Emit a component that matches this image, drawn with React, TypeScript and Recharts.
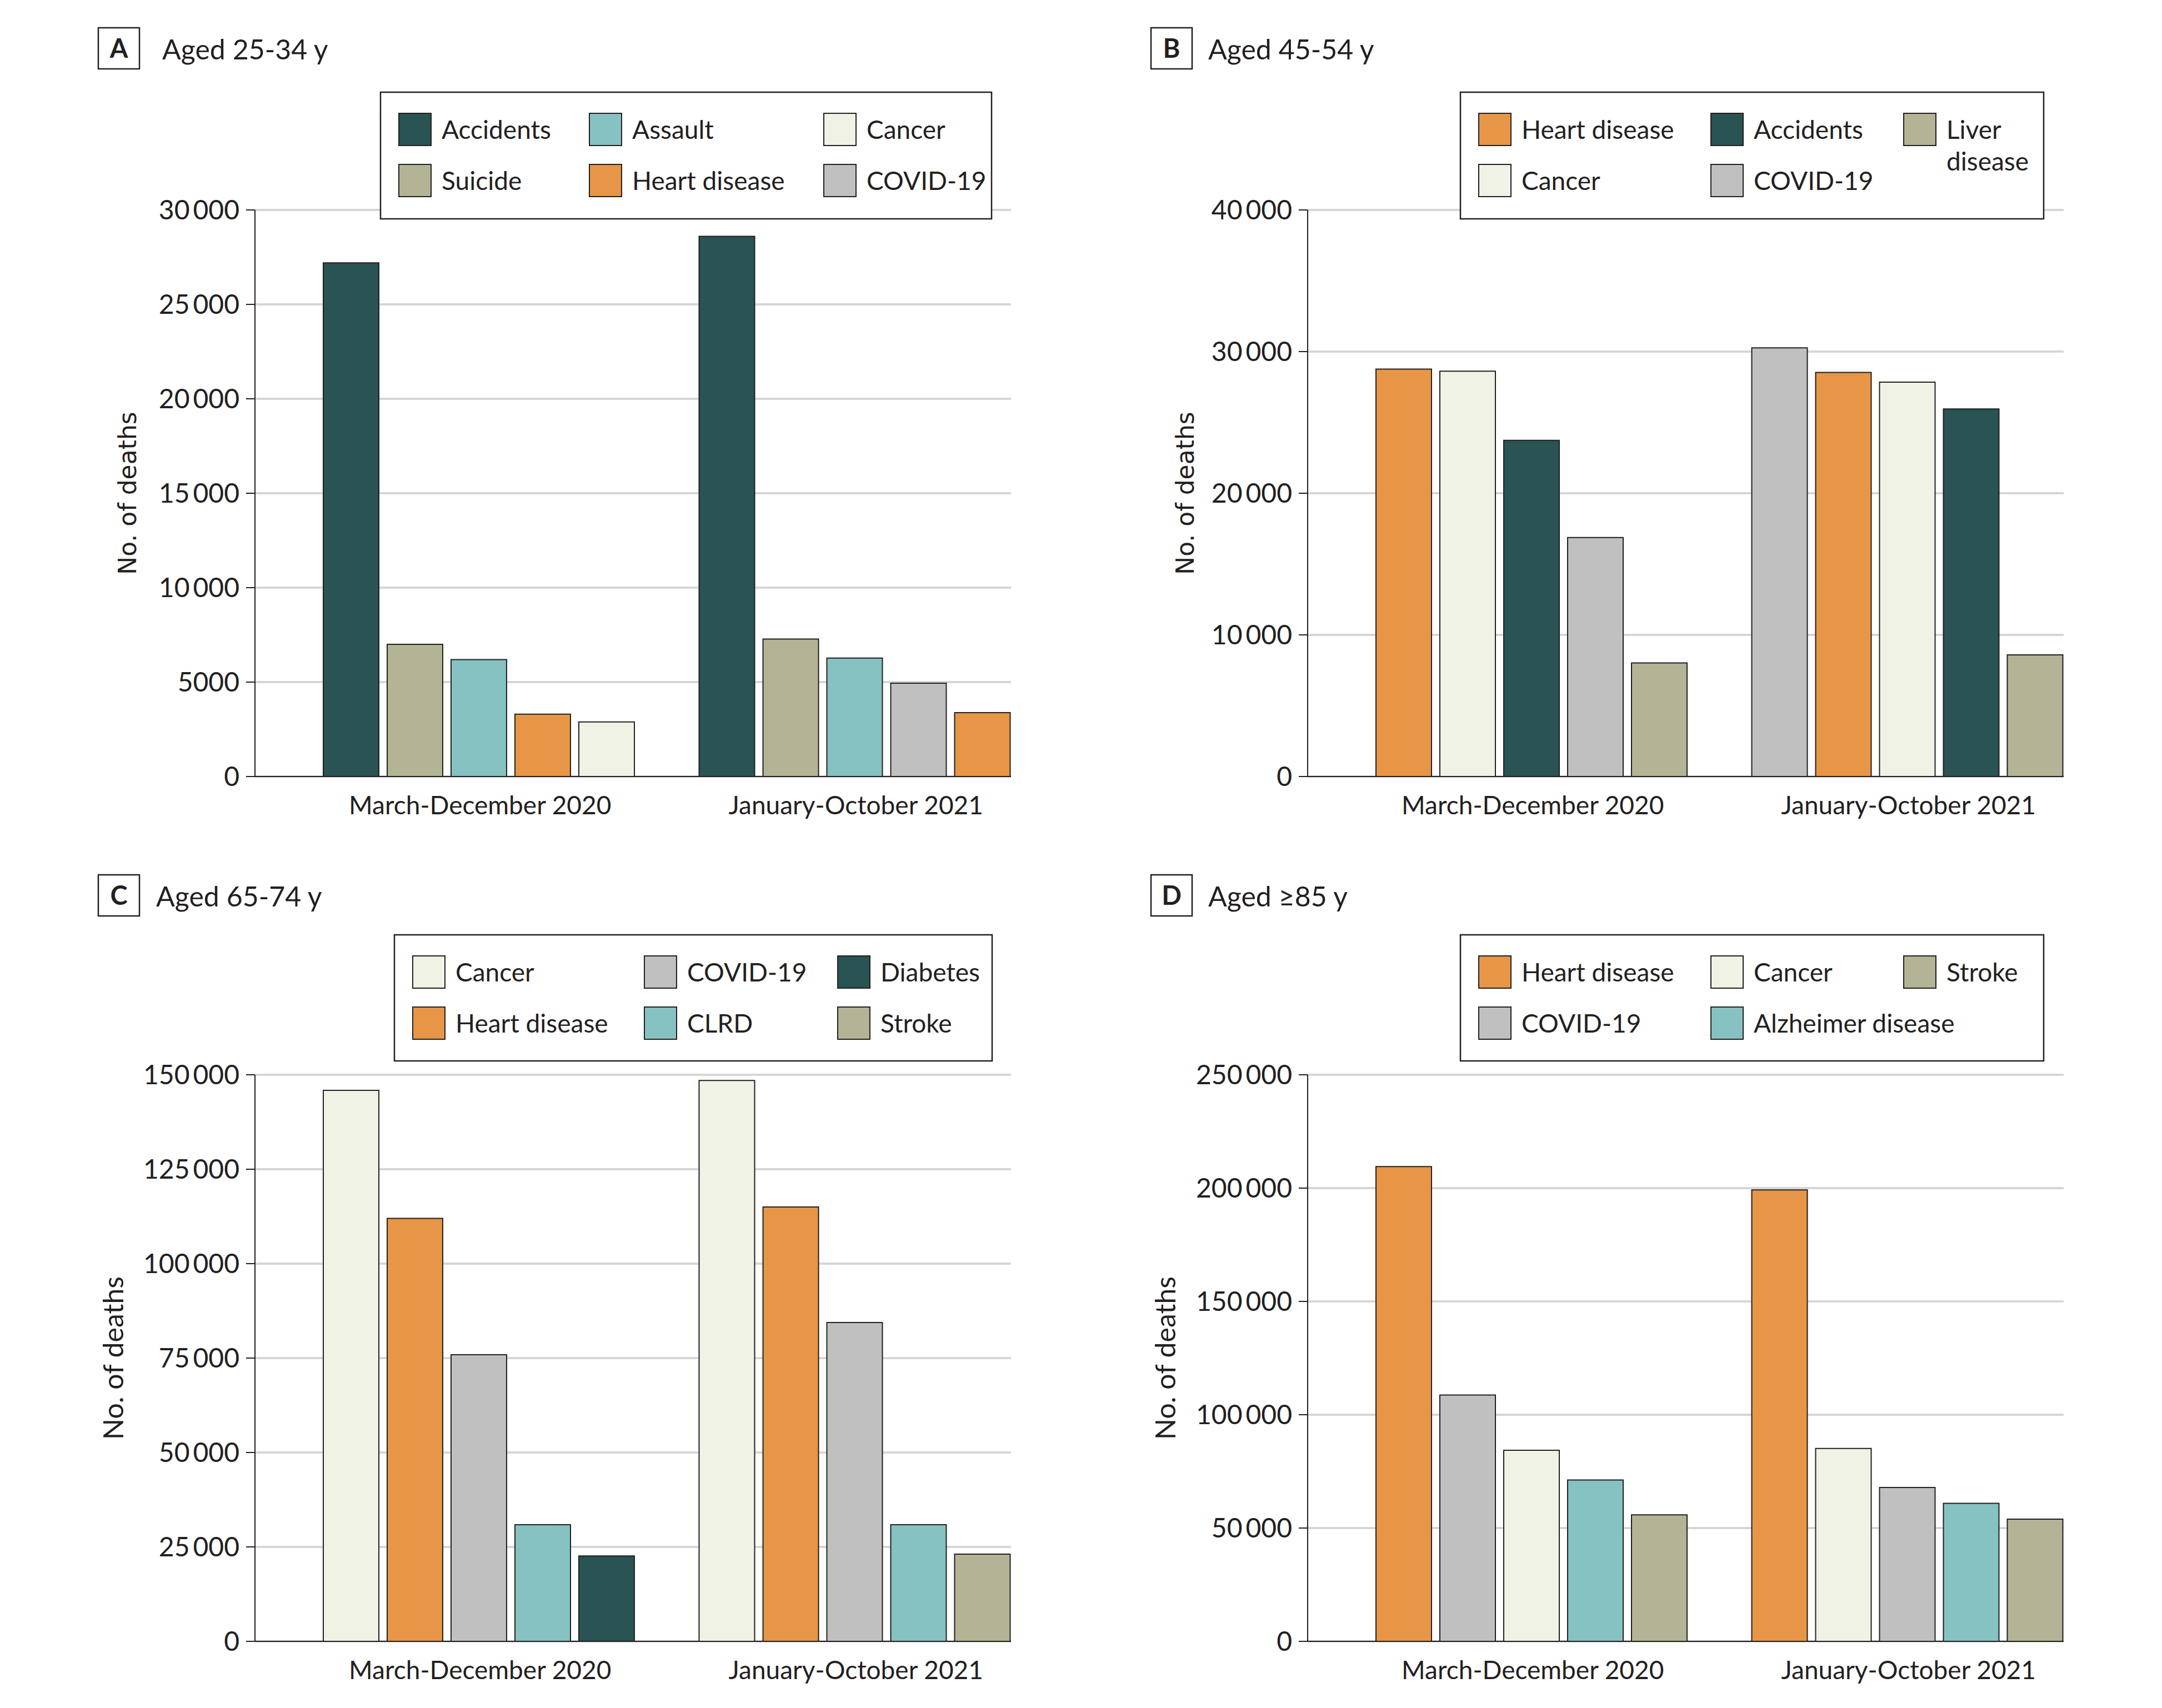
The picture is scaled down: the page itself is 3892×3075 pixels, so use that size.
import React from 'react';
import { BarChart, Bar, Cell, XAxis, YAxis, CartesianGrid } from 'recharts';

const periods = ['March-December 2020', 'January-October 2021'];

// A: aged 25-34 y, bars ranked within each period
const causesA2020 = ['Accidents', 'Suicide', 'Assault', 'Heart disease', 'Cancer'];
const deathsA2020 = [27200, 7000, 6190, 3300, 2890];
const causesA2021 = ['Accidents', 'Suicide', 'Assault', 'COVID-19', 'Heart disease'];
const deathsA2021 = [28600, 7280, 6270, 4940, 3380];
const legendA = ['Accidents', 'Assault', 'Cancer', 'Suicide', 'Heart disease', 'COVID-19'];
const ticksA = [0, 5000, 10000, 15000, 20000, 25000, 30000];

// B: aged 45-54 y
const causesB2020 = ['Heart disease', 'Cancer', 'Accidents', 'COVID-19', 'Liver disease'];
const deathsB2020 = [28760, 28620, 23740, 16870, 8020];
const causesB2021 = ['COVID-19', 'Heart disease', 'Cancer', 'Accidents', 'Liver disease'];
const deathsB2021 = [30260, 28530, 27840, 25950, 8590];
const legendB = ['Heart disease', 'Accidents', 'Liver disease', 'Cancer', 'COVID-19'];
const ticksB = [0, 10000, 20000, 30000, 40000];

// C: aged 65-74 y
const causesC2020 = ['Cancer', 'Heart disease', 'COVID-19', 'CLRD', 'Diabetes'];
const deathsC2020 = [145900, 112000, 75900, 30900, 22600];
const causesC2021 = ['Cancer', 'Heart disease', 'COVID-19', 'CLRD', 'Stroke'];
const deathsC2021 = [148500, 115000, 84400, 30900, 23100];
const legendC = ['Cancer', 'COVID-19', 'Diabetes', 'Heart disease', 'CLRD', 'Stroke'];
const ticksC = [0, 25000, 50000, 75000, 100000, 125000, 150000];

// D: aged >=85 y
const causesD2020 = ['Heart disease', 'COVID-19', 'Cancer', 'Alzheimer disease', 'Stroke'];
const deathsD2020 = [209500, 108700, 84300, 71200, 55800];
const causesD2021 = ['Heart disease', 'Cancer', 'COVID-19', 'Alzheimer disease', 'Stroke'];
const deathsD2021 = [199200, 85100, 67900, 60900, 53900];
const legendD = ['Heart disease', 'Cancer', 'Stroke', 'COVID-19', 'Alzheimer disease'];
const ticksD = [0, 50000, 100000, 150000, 200000, 250000];

const causeColors: Record<string, string> = {
  Accidents: '#2a5353',
  Diabetes: '#2a5353',
  Assault: '#85c2c1',
  CLRD: '#85c2c1',
  'Alzheimer disease': '#85c2c1',
  Cancer: '#f0f2e6',
  Suicide: '#b2b495',
  'Liver disease': '#b2b495',
  Stroke: '#b2b495',
  'Heart disease': '#e69646',
  'COVID-19': '#c0c0c0',
};

const INK = '#231f20';
const FONT = 'Lato, "Noto Sans", sans-serif';
const RANKS = [0, 1, 2, 3, 4];

const buildRows = (c20: string[], d20: number[], c21: string[], d21: number[]) =>
  [
    [c20, d20],
    [c21, d21],
  ].map(([c, d], i) => {
    const row: Record<string, any> = { period: periods[i], causes: c, pad: null };
    (d as number[]).forEach((v, k) => {
      row[`r${k}`] = v;
    });
    return row;
  });

const fmt = (v: number) =>
  v >= 10000 ? v.toLocaleString('en-US').replace(/,/g, '\u2009') : String(v);

const PeriodTick = (props: any) => {
  const { x, y, payload } = props;
  return (
    <text x={x + 59} y={y} dy={68} textAnchor="middle" fontSize={46} fill={INK} fontFamily={FONT}>
      {payload.value}
    </text>
  );
};

type PanelProps = {
  rows: Record<string, any>[];
  ticks: number[];
  x: number;
  y: number;
  labelOffset: number;
  labelStyle: React.CSSProperties;
};

function DeathsPanel({ rows, ticks, x, y, labelOffset, labelStyle }: PanelProps) {
  return (
    <div style={{ position: 'absolute', left: x, top: y }}>
      <BarChart
        width={1840}
        height={1500}
        data={rows}
        margin={{ top: 378, right: 20, bottom: 22, left: 0 }}
        barCategoryGap={0}
        barGap={15}
      >
        <CartesianGrid vertical={false} stroke="#d6d6d6" strokeWidth={4} />
        <XAxis
          dataKey="period"
          padding={{ left: 8, right: 0 }}
          tickLine={false}
          tickSize={0}
          tickMargin={0}
          height={80}
          interval={0}
          axisLine={{ stroke: INK, strokeWidth: 2 }}
          tick={PeriodTick}
        />
        <YAxis
          width={459}
          domain={[0, ticks[ticks.length - 1]]}
          ticks={ticks}
          interval={0}
          tickFormatter={fmt}
          tickSize={16}
          tickMargin={12}
          axisLine={{ stroke: INK, strokeWidth: 2 }}
          tickLine={{ stroke: INK, strokeWidth: 2 }}
          tick={{ fill: INK, fontSize: 48, fontFamily: FONT }}
          label={{
            value: 'No. of deaths',
            angle: -90,
            position: 'insideLeft',
            offset: labelOffset,
            style: { textAnchor: 'middle', fill: INK, ...labelStyle },
          }}
        />
        {/* empty leading slot gives the left padding before each group */}
        <Bar dataKey="pad" isAnimationActive={false} fill="none" />
        {RANKS.map((k) => (
          <Bar key={k} dataKey={`r${k}`} isAnimationActive={false} stroke={INK} strokeWidth={2}>
            {rows.map((row, i) => (
              <Cell key={i} fill={causeColors[row.causes[k]]} />
            ))}
          </Bar>
        ))}
      </BarChart>
    </div>
  );
}

const frames = [
  { letter: 'A', title: 'Aged 25-34 y', items: legendA, boxX: 177, boxY: 50, titleX: 292, base: 107, lx: 685, ly: 166, lw: 1100, lh: 228, cols: [33, 376, 798] },
  { letter: 'B', title: 'Aged 45-54 y', items: legendB, boxX: 2072, boxY: 50, titleX: 2175, base: 107, lx: 2629, ly: 166, lw: 1050, lh: 228, cols: [33, 451, 798] },
  { letter: 'C', title: 'Aged 65-74 y', items: legendC, boxX: 177, boxY: 1575, titleX: 281, base: 1632, lx: 710, ly: 1683, lw: 1076, lh: 227, cols: [33, 450, 798] },
  { letter: 'D', title: 'Aged \u226585 y', items: legendD, boxX: 2072, boxY: 1575, titleX: 2175, base: 1632, lx: 2629, ly: 1683, lw: 1050, lh: 227, cols: [33, 451, 798] },
];

function Overlay() {
  return (
    <svg width={3892} height={3075} style={{ position: 'absolute', left: 0, top: 0 }} fontFamily={FONT}>
      {frames.map((f) => (
        <g key={f.letter}>
          <rect x={f.boxX} y={f.boxY} width={74} height={74} fill="#fff" stroke={INK} strokeWidth={2.5} />
          <text x={f.boxX + 37} y={f.boxY + 54} textAnchor="middle" fontSize={47} fontWeight={700} fill={INK}>
            {f.letter}
          </text>
          <text x={f.titleX} y={f.base} fontSize={50} fill={INK}>
            {f.title}
          </text>
          <rect x={f.lx} y={f.ly} width={f.lw} height={f.lh} fill="#fff" stroke={INK} strokeWidth={2.5} />
          {f.items.map((name, i) => {
            const sx = f.lx + f.cols[i % 3];
            const sy = f.ly + 38 + Math.floor(i / 3) * 92;
            const tx = sx + 77;
            const tooWide = tx + name.length * 23 > f.lx + f.lw;
            const lines = tooWide ? name.split(' ') : [name];
            return (
              <g key={name}>
                <rect x={sx} y={sy} width={58} height={58} fill={causeColors[name]} stroke={INK} strokeWidth={2} />
                {lines.map((ln, j) => (
                  <text key={ln} x={tx} y={sy + 46 + j * 57} fontSize={46} fill={INK}>
                    {ln}
                  </text>
                ))}
              </g>
            );
          })}
        </g>
      ))}
    </svg>
  );
}

export default function App() {
  const rowsA = buildRows(causesA2020, deathsA2020, causesA2021, deathsA2021);
  const rowsB = buildRows(causesB2020, deathsB2020, causesB2021, deathsB2021);
  const rowsC = buildRows(causesC2020, deathsC2020, causesC2021, deathsC2021);
  const rowsD = buildRows(causesD2020, deathsD2020, causesD2021, deathsD2021);
  const sansLabel = { fontSize: 44, fontFamily: '"DejaVu Sans", sans-serif' };
  const latoLabel = { fontSize: 50, fontFamily: FONT };
  return (
    <div
      style={{
        position: 'absolute',
        left: 0,
        top: 0,
        width: 3892,
        height: 3075,
        background: '#fff',
        fontFamily: FONT,
      }}
    >
      <DeathsPanel rows={rowsA} ticks={ticksA} x={0} y={0} labelOffset={229} labelStyle={sansLabel} />
      <DeathsPanel rows={rowsB} ticks={ticksB} x={1895} y={0} labelOffset={238} labelStyle={sansLabel} />
      <DeathsPanel rows={rowsC} ticks={ticksC} x={0} y={1557} labelOffset={204} labelStyle={latoLabel} />
      <DeathsPanel rows={rowsD} ticks={ticksD} x={1895} y={1557} labelOffset={203} labelStyle={latoLabel} />
      <Overlay />
    </div>
  );
}
